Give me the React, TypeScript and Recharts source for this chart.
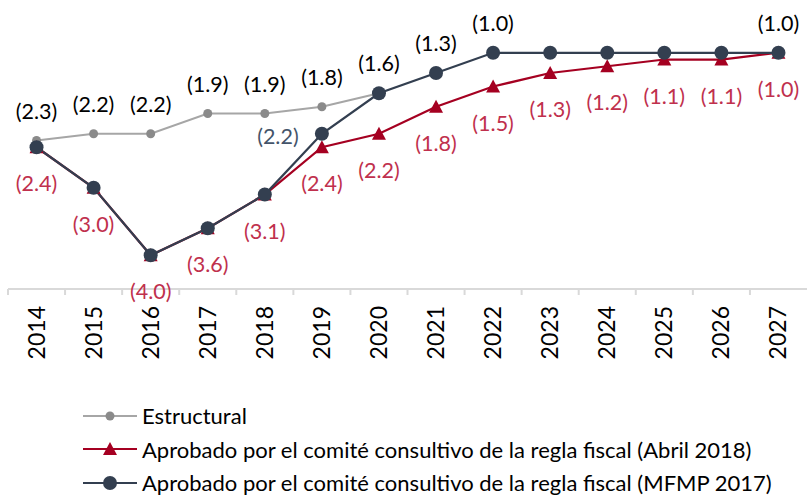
import React from 'react';
import { LineChart, Line, XAxis, YAxis, LabelList, Legend } from 'recharts';

const years = ['2014', '2015', '2016', '2017', '2018', '2019', '2020', '2021', '2022', '2023', '2024', '2025', '2026', '2027'];
const estructural = [-2.3, -2.2, -2.2, -1.9, -1.9, -1.8, -1.6, null, null, null, null, null, null, null];
const abril2018 = [-2.4, -3.0, -4.0, -3.6, -3.1, -2.4, -2.2, -1.8, -1.5, -1.3, -1.2, -1.1, -1.1, -1.0];
const mfmp2017 = [-2.4, -3.0, -4.0, -3.6, -3.1, -2.2, -1.6, -1.3, -1.0, -1.0, -1.0, -1.0, -1.0, -1.0];
// años de la serie MFMP que llevan etiqueta
const mfmpLabeled = ['2019', '2021', '2022', '2027'];

const seriesNames = [
  'Estructural',
  'Aprobado por el comité consultivo de la regla fiscal (Abril 2018)',
  'Aprobado por el comité consultivo de la regla fiscal (MFMP 2017)',
];

const data = years.map((year, i) => ({
  year,
  estructural: estructural[i],
  abril: abril2018[i],
  mfmp: mfmp2017[i],
}));

const W = 807;
const H = 497;
const M = { top: 19, right: 0, bottom: 118, left: 8 };
const BW = (W - M.left - M.right) / years.length;
const FONT = 'Lato, "Noto Sans", sans-serif';
const LBL = 21.5;

const GRAY = '#a6a6a6';
const GRAY_DOT = '#8a8a8a';
const RED = '#a50021';
const RED_TXT = '#c0304d';
const NAVY = '#333f50';
const SLATE = '#44546a';

const fmt = (v: number) => `(${Math.abs(v).toFixed(1)})`;

const YearTick = (props: any) => {
  const { x, y, payload } = props;
  return (
    <g>
      <line x1={x - BW / 2} x2={x - BW / 2} y1={y} y2={y + 6} stroke="#d9d9d9" strokeWidth={2} />
      <text
        transform={`translate(${x + 8},${y + 17}) rotate(-90)`}
        textAnchor="end"
        fontSize={23}
        fontFamily={FONT}
        fill="#000"
      >
        {payload.value}
      </text>
    </g>
  );
};

const Triangle = (props: any) => {
  const { cx, cy, index } = props;
  if (cx == null || cy == null) return <g key={index} />;
  return (
    <polygon
      key={index}
      points={`${cx},${cy - 7} ${cx - 7},${cy + 6} ${cx + 7},${cy + 6}`}
      fill={RED}
    />
  );
};

const aboveLabel = (props: any) => {
  const { x, y, value, index } = props;
  if (value == null) return null;
  return (
    <text key={index} x={x} y={y - 22} textAnchor="middle" fontSize={LBL} fontFamily={FONT} fill="#000">
      {fmt(value)}
    </text>
  );
};

const belowLabel = (props: any) => {
  const { x, y, value, index } = props;
  if (value == null) return null;
  return (
    <text key={index} x={x} y={y + 44} textAnchor="middle" fontSize={LBL} fontFamily={FONT} fill={RED_TXT}>
      {fmt(value)}
    </text>
  );
};

const mfmpLabel = (props: any) => {
  const { x, y, value, index } = props;
  const year = years[index];
  if (value == null || !mfmpLabeled.includes(year)) return null;
  if (year === '2019') {
    return (
      <text key={index} x={x - 44} y={y + 10} textAnchor="middle" fontSize={LBL} fontFamily={FONT} fill={SLATE}>
        {fmt(value)}
      </text>
    );
  }
  return (
    <text key={index} x={x} y={y - 22} textAnchor="middle" fontSize={LBL} fontFamily={FONT} fill="#000">
      {fmt(value)}
    </text>
  );
};

const LegendIcon = ({ i }: { i: number }) => (
  <svg width={54} height={20} style={{ flex: 'none' }}>
    {i === 0 && (
      <g>
        <line x1={0} x2={54} y1={10} y2={10} stroke={GRAY} strokeWidth={2} />
        <circle cx={27} cy={10} r={4.5} fill={GRAY_DOT} />
      </g>
    )}
    {i === 1 && (
      <g>
        <line x1={0} x2={54} y1={10} y2={10} stroke={RED} strokeWidth={2} />
        <polygon points="27,3 20,16 34,16" fill={RED} />
      </g>
    )}
    {i === 2 && (
      <g>
        <line x1={0} x2={54} y1={10} y2={10} stroke={NAVY} strokeWidth={2} />
        <circle cx={27} cy={10} r={7} fill={NAVY} />
      </g>
    )}
  </svg>
);

const renderLegend = () => (
  <div style={{ fontFamily: FONT, fontSize: 22, color: '#000' }}>
    {seriesNames.map((name, i) => (
      <div key={name} style={{ display: 'flex', alignItems: 'center', height: 33.5, whiteSpace: 'nowrap' }}>
        <LegendIcon i={i} />
        <span style={{ marginLeft: 5 }}>{name}</span>
      </div>
    ))}
  </div>
);

export default function App() {
  return (
    <div style={{ position: 'absolute', left: 0, top: 0, width: W, height: H, background: '#fff' }}>
      <LineChart width={W} height={H} data={data} margin={M}>
        <XAxis
          dataKey="year"
          scale="band"
          axisLine={{ stroke: '#d9d9d9', strokeWidth: 2 }}
          tickLine={false}
          tickSize={0}
          tickMargin={0}
          interval={0}
          height={90}
          tick={<YearTick />}
        />
        <YAxis hide domain={[-4.5, -0.5]} />
        <Legend
          layout="vertical"
          align="center"
          verticalAlign="middle"
          content={renderLegend}
          wrapperStyle={{ left: 83, top: 399, width: 720, height: 101 }}
        />
        <Line
          dataKey="estructural"
          stroke={GRAY}
          strokeWidth={2}
          dot={{ r: 4.5, fill: GRAY_DOT, stroke: 'none' }}
          activeDot={false}
          isAnimationActive={false}
        >
          <LabelList dataKey="estructural" content={aboveLabel} />
        </Line>
        <Line
          dataKey="abril"
          stroke={RED}
          strokeWidth={2.25}
          dot={<Triangle />}
          activeDot={false}
          isAnimationActive={false}
        >
          <LabelList dataKey="abril" content={belowLabel} />
        </Line>
        <Line
          dataKey="mfmp"
          stroke={NAVY}
          strokeWidth={2.25}
          dot={{ r: 7, fill: NAVY, stroke: 'none' }}
          activeDot={false}
          isAnimationActive={false}
        >
          <LabelList dataKey="mfmp" content={mfmpLabel} />
        </Line>
      </LineChart>
    </div>
  );
}
